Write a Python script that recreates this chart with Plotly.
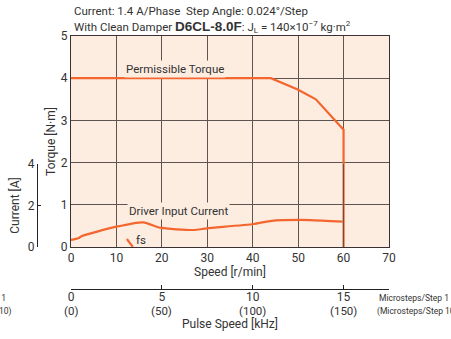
import plotly.graph_objects as go

# ---- data ----
speed_ticks = [0, 10, 20, 30, 40, 50, 60, 70]
torque_ticks = [0, 1, 2, 3, 4, 5]
current_ticks = [0, 2, 4]
pulse_ticks = [0, 5, 10, 15]
pulse_labels = ["0", "5", "10", "15"]
pulse_labels_10 = ["(0)", "(50)", "(100)", "(150)"]

torque_speed = [0, 44, 49.9, 53.9, 60, 60]
torque_val = [4.0, 4.0, 3.73, 3.50, 2.78, 0]

current_speed = [0, 1.6, 2.4, 10, 15.9, 19.6, 26.9, 29.9, 40.2, 43.8, 52.6, 59.8]
current_val = [0.34, 0.42, 0.53, 0.98, 1.19, 0.93, 0.82, 0.90, 1.11, 1.25, 1.30, 1.22]

fs_speed = [12.3, 13.6]
fs_torque = [0.19, 0.0]

ORANGE = "#f4662f"
BG = "#fdece0"
GRID = "#5d5351"
TXT = "#333333"
FONT = "Roboto, Liberation Sans, Arial, sans-serif"

W, H = 451, 339
ML, MR, MT, MB = 37, 62, 36, 50
PW = W - ML - MR
PH = H - MT - MB
x_dom0 = (71 - ML) / PW
y_dom0 = (H - MB - 247) / PH
y2_top = y_dom0 + 83 / PH

def px(xp):
    return (xp - ML) / PW

def py(yp):
    return (H - MB - yp) / PH

fig = go.Figure()
fig.add_trace(go.Scatter(x=torque_speed, y=torque_val, mode="lines",
                         line=dict(color=ORANGE, width=2.2), xaxis="x", yaxis="y",
                         showlegend=False, hoverinfo="skip"))
fig.add_trace(go.Scatter(x=current_speed, y=current_val, mode="lines",
                         line=dict(color=ORANGE, width=2.2, shape="spline", smoothing=0.6),
                         xaxis="x", yaxis="y2", showlegend=False, hoverinfo="skip"))
fig.add_trace(go.Scatter(x=fs_speed, y=fs_torque, mode="lines",
                         line=dict(color=ORANGE, width=2.2), xaxis="x", yaxis="y",
                         showlegend=False, hoverinfo="skip"))
# carrier for the pulse-speed axis (draws nothing)
fig.add_trace(go.Scatter(x=pulse_ticks, y=[None] * len(pulse_ticks), mode="lines",
                         xaxis="x2", yaxis="y", showlegend=False, hoverinfo="skip"))

fig.update_layout(
    width=W, height=H,
    margin=dict(l=ML, r=MR, t=MT, b=MB, pad=0),
    paper_bgcolor="white",
    plot_bgcolor="rgba(0,0,0,0)",
    font=dict(family=FONT, size=12, color=TXT),
    xaxis=dict(domain=[x_dom0, 1], range=[0, 70], tickvals=speed_ticks,
               showgrid=True, gridcolor=GRID, gridwidth=1.3, zeroline=False,
               showline=True, mirror=True, linecolor="#3a3232", linewidth=1,
               ticks="", ticklen=0, anchor="y", automargin=False,
               title=dict(text="Speed [r/min]", standoff=2, font=dict(size=12))),
    yaxis=dict(domain=[y_dom0, 1], range=[0, 5], tickvals=torque_ticks,
               showgrid=True, gridcolor=GRID, gridwidth=1.3, zeroline=False,
               showline=True, mirror=True, linecolor="#3a3232", linewidth=1,
               ticks="", anchor="x", automargin=False,
               title=dict(text="Torque [N·m]", standoff=2, font=dict(size=12))),
    yaxis2=dict(domain=[y_dom0, y2_top], range=[0, 4], tickvals=current_ticks,
                anchor="free", position=0, showgrid=False, zeroline=False,
                showline=True, linecolor="#222222", linewidth=1, automargin=False,
                ticks="inside", ticklen=3, tickcolor="#222222",
                title=dict(text="Current [A]", standoff=4, font=dict(size=12))),
    xaxis2=dict(overlaying="x", anchor="free", position=0, range=[0, 17.5],
                tickvals=pulse_ticks, ticktext=pulse_labels, side="bottom",
                showgrid=False, zeroline=False, showline=True, automargin=False,
                linecolor="#222222", linewidth=1, ticks="inside", ticklen=4,
                tickcolor="#222222", ticklabelstandoff=-3),
    shapes=[dict(type="rect", xref="paper", yref="paper", x0=x_dom0, x1=1,
                 y0=y_dom0, y1=1, fillcolor=BG, line=dict(width=0), layer="below")],
)

ann = [
    dict(text="Current: 1.4 A/Phase  Step Angle: 0.024°/Step", x=px(72), y=py(11),
         xanchor="left", yanchor="middle", font=dict(size=11.5)),
    dict(text="With Clean Damper <span style=\"font-weight:bold;font-size:13.5px;font-family:'Liberation Sans',Arial,sans-serif\">D6CL-8.0F</span>: J<sub>L</sub> = 140×10<sup>−7</sup> kg·m<sup>2</sup>",
         x=px(72), y=py(27), xanchor="left", yanchor="middle", font=dict(size=11.5)),
    dict(text="Permissible Torque", x=11.7, y=4.21, xref="x", yref="y",
         xanchor="left", yanchor="middle", bgcolor=BG, borderpad=1, font=dict(size=11.5)),
    dict(text="Driver Input Current", x=12.3, y=0.86, xref="x", yref="y",
         xanchor="left", yanchor="middle", bgcolor=BG, borderpad=1, font=dict(size=11.5)),
    dict(text="fs", x=13.9, y=0.17, xref="x", yref="y",
         xanchor="left", yanchor="middle", font=dict(size=11.5)),
    dict(text="Pulse Speed [kHz]", x=(x_dom0 + 1) / 2, y=py(324),
         xanchor="center", yanchor="middle", font=dict(size=12)),
    dict(text="Microsteps/Step 1", x=px(377), y=py(298), xanchor="left", yanchor="middle",
         font=dict(size=8.5)),
    dict(text="(Microsteps/Step 10)", x=px(375), y=py(311), xanchor="left", yanchor="middle",
         font=dict(size=8.5)),
    dict(text="Microsteps/Step 1", x=px(8), y=py(298), xanchor="right", yanchor="middle",
         font=dict(size=8.5)),
    dict(text="(Microsteps/Step 10)", x=px(14), y=py(311), xanchor="right", yanchor="middle",
         font=dict(size=8.5)),
]
for v, lab in zip(pulse_ticks, pulse_labels_10):
    ann.append(dict(text=lab, x=v, xref="x2", y=py(311), yanchor="middle",
                    xanchor="center", font=dict(size=11.5)))
for a in ann:
    a.setdefault("xref", "paper")
    a.setdefault("yref", "paper")
    a["showarrow"] = False
    fig.add_annotation(**a)

fig.write_html("out.html", config={"displayModeBar": False},
               post_script="document.body.style.margin='0px';")
